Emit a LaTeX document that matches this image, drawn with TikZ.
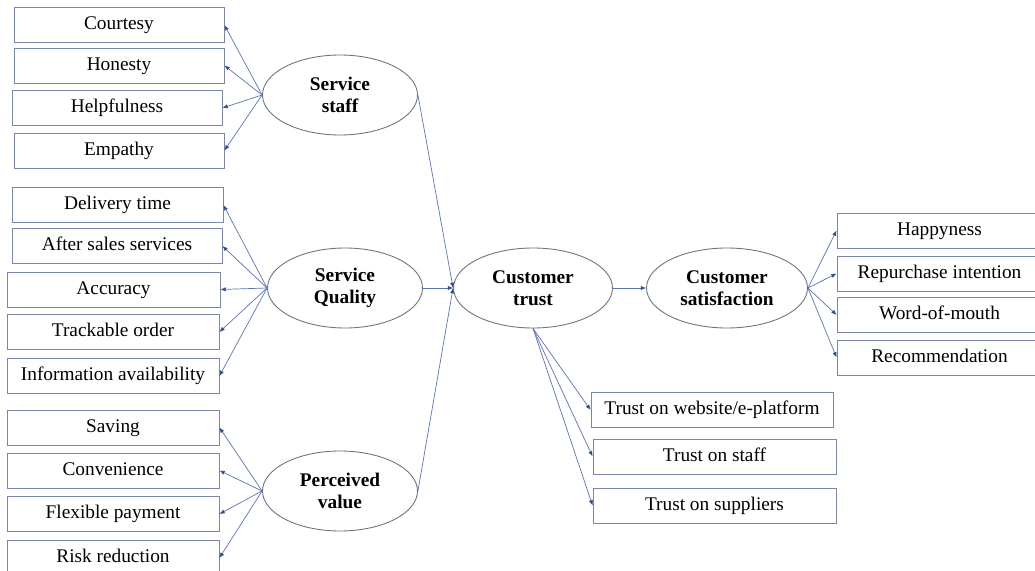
\documentclass[tikz,border=0pt]{standalone}
\usepackage{fontspec}
\setmainfont{Liberation Serif}
\usepackage{xcolor}
\usetikzlibrary{arrows.meta}
\usetikzlibrary{shapes.geometric}

\definecolor{linkblue}{HTML}{5B74B4}
\definecolor{tipblue}{HTML}{2E4C8E}
\definecolor{boxline}{HTML}{7C87A6}
\definecolor{ovalline}{HTML}{6E7380}

\tikzset{
  item/.style={draw=boxline, line width=0.5pt, minimum height=0.7cm, inner sep=1pt,
    text height=1.6ex, text depth=0.45ex, font=\fontsize{11}{12}\selectfont},
  construct/.style={ellipse, draw=ovalline, line width=0.5pt, minimum width=3.1cm,
    minimum height=1.6cm, inner sep=0pt, align=center,
    font=\fontsize{11}{12.5}\selectfont\bfseries},
  link/.style={draw=linkblue, line width=0.4pt,
    -{Latex[length=3pt,width=2.4pt,color=tipblue]}}
}

\begin{document}
\begin{tikzpicture}[x=0.02cm, y=-0.02cm]
  \useasboundingbox[fill=white] (0,0) rectangle (1035,571);

  % Constructs
  \node[construct] (staff) at (340,95) {Service\\staff};
  \node[construct] (quality) at (345,288) {Service\\Quality};
  \node[construct] (value) at (340,491) {Perceived\\value};
  \node[construct, minimum width=3.18cm] (trust) at (533,288) {Customer\\trust};
  \node[construct, minimum width=3.22cm] (satis) at (727,288) {Customer\\satisfaction};

  % Service staff items
  \node[item, minimum width=4.2cm] (courtesy) at (119,25) {Courtesy};
  \node[item, minimum width=4.2cm] (honesty) at (119,65.5) {Honesty};
  \node[item, minimum width=4.2cm] (helpful) at (117,108) {Helpfulness};
  \node[item, minimum width=4.2cm] (empathy) at (119,150.5) {Empathy};

  % Service quality items
  \node[item, minimum width=4.22cm] (delivery) at (117.5,205) {Delivery time};
  \node[item, minimum width=4.2cm] (aftersales) at (117,246) {After sales services};
  \node[item, minimum width=4.26cm] (accuracy) at (113.5,289.5) {Accuracy};
  \node[item, minimum width=4.24cm] (trackable) at (113,332) {Trackable order};
  \node[item, minimum width=4.24cm] (info) at (113,376) {Information availability};

  % Perceived value items
  \node[item, minimum width=4.24cm] (saving) at (113,427.5) {Saving};
  \node[item, minimum width=4.24cm] (conven) at (113,470.5) {Convenience};
  \node[item, minimum width=4.24cm] (flexible) at (113,514) {Flexible payment};
  \node[item, minimum width=4.24cm] (risk) at (113,558) {Risk reduction};

  % Trust items
  \node[item, minimum width=4.84cm] (website) at (712,410) {Trust on website/e-platform};
  \node[item, minimum width=4.86cm] (trstaff) at (714.5,456.5) {Trust on staff};
  \node[item, minimum width=4.86cm] (supplier) at (714.5,505.5) {Trust on suppliers};

  % Satisfaction items
  \node[item, minimum width=4.1cm] (happy) at (939.5,230.5) {Happyness};
  \node[item, minimum width=4.1cm] (repurchase) at (939.5,273.5) {Repurchase intention};
  \node[item, minimum width=4.1cm] (wom) at (939.5,315) {Word-of-mouth};
  \node[item, minimum width=4.1cm] (recommend) at (939.5,357.5) {Recommendation};

  % Links to indicators
  \draw[link] (staff.west) -- (courtesy.east);
  \draw[link] (staff.west) -- (honesty.east);
  \draw[link] (staff.west) -- (helpful.east);
  \draw[link] (staff.west) -- (empathy.east);

  \draw[link] (quality.west) -- (delivery.east);
  \draw[link] (quality.west) -- (aftersales.east);
  \draw[link] (quality.west) -- (accuracy.east);
  \draw[link] (quality.west) -- (trackable.east);
  \draw[link] (quality.west) -- (info.east);

  \draw[link] (value.west) -- (saving.east);
  \draw[link] (value.west) -- (conven.east);
  \draw[link] (value.west) -- (flexible.east);
  \draw[link] (value.west) -- (risk.east);

  \draw[link] (trust.south) -- (website.west);
  \draw[link] (trust.south) -- (trstaff.west);
  \draw[link] (trust.south) -- (supplier.west);

  \draw[link] (satis.east) -- (happy.west);
  \draw[link] (satis.east) -- (repurchase.west);
  \draw[link] (satis.east) -- (wom.west);
  \draw[link] (satis.east) -- (recommend.west);

  % Paths between constructs
  \draw[link] (staff.east) -- (trust.west);
  \draw[link] (quality.east) -- (trust.west);
  \draw[link] (value.east) -- (trust.west);
  \draw[link] (trust.east) -- (satis.west);
\end{tikzpicture}
\end{document}
